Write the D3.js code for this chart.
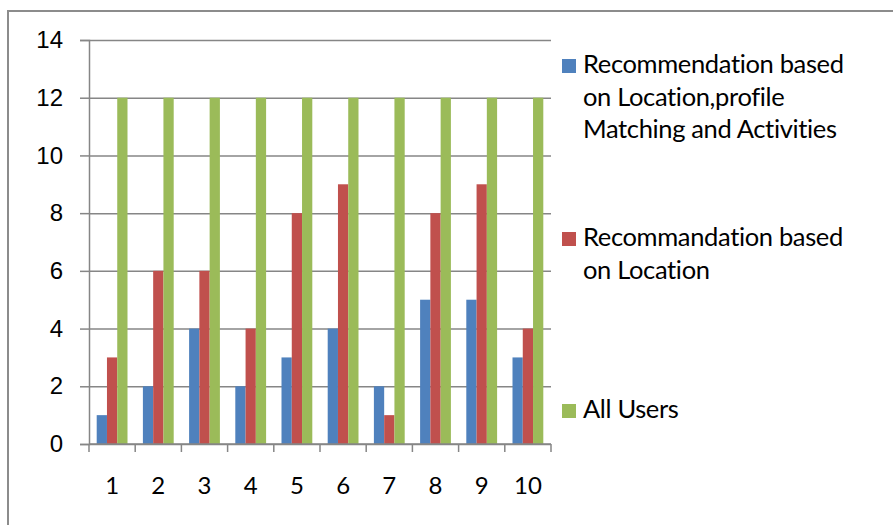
<!DOCTYPE html>
<html>
<head>
<meta charset="utf-8">
<script src="https://cdn.jsdelivr.net/npm/d3@7"></script>
<style>
  html, body { margin: 0; padding: 0; background: #fff; overflow: hidden; }
  svg { display: block; font-family: Lato, "Open Sans", sans-serif; }
</style>
</head>
<body>
<div id="chart"></div>
<script>
// valeurs
const categories = ["1", "2", "3", "4", "5", "6", "7", "8", "9", "10"];
const seriesNames = ["profile", "location", "all"];
const profileValues = [1, 2, 4, 2, 3, 4, 2, 5, 5, 3];
const locationValues = [3, 6, 6, 4, 8, 9, 1, 8, 9, 4];
const allUsersValues = [12, 12, 12, 12, 12, 12, 12, 12, 12, 12];
const yTicks = [0, 2, 4, 6, 8, 10, 12, 14];
const legendLabels = [
    ["Recommendation based", "on Location,profile", "Matching and Activities"],
    ["Recommandation based", "on Location"],
    ["All Users"]
];
const colors = ["#4f81bd", "#c0504d", "#9bbb59"];

const width = 893;
const height = 525;
const marginLeft = 89;
const marginRight = 342;
const marginTop = 40;
const marginBottom = 81;

const data = categories.map((c, i) => ({
    cat: c,
    values: [profileValues[i], locationValues[i], allUsersValues[i]]
}));

const svg = d3.select("#chart").append("svg")
    .attr("width", width)
    .attr("height", height)
    .attr("viewBox", [0, 0, width, height]);

// cadre extérieur (seulement haut et gauche visibles)
svg.append("rect")
    .attr("x", 8)
    .attr("y", 11)
    .attr("width", width + 20)
    .attr("height", height + 20)
    .attr("fill", "none")
    .attr("stroke", "#8c8c8c")
    .attr("stroke-width", 2);

const x0 = d3.scaleBand()
    .domain(categories)
    .range([marginLeft, width - marginRight])
    .paddingInner(0)
    .paddingOuter(0);

const x1 = d3.scaleBand()
    .domain(seriesNames)
    .range([0, x0.bandwidth()])
    .paddingInner(0)
    .paddingOuter(0.75);

const y = d3.scaleLinear()
    .domain([0, 14])
    .range([height - marginBottom, marginTop]);

// grille + axe Y
svg.append("g")
    .attr("transform", `translate(${marginLeft},0)`)
    .call(d3.axisLeft(y).tickValues(yTicks).tickSize(9).tickPadding(17))
    .call(g => g.select(".domain").attr("stroke", "#868686").attr("stroke-width", 1.5))
    .call(g => g.selectAll(".tick line").attr("stroke", "#868686").attr("stroke-width", 1.5))
    .call(g => g.selectAll(".tick line").clone()
        .attr("x2", width - marginLeft - marginRight))
    .call(g => g.selectAll(".tick text")
        .attr("font-size", "24px")
        .attr("fill", "#000"));

// barres
svg.append("g")
    .selectAll("g")
    .data(data)
    .join("g")
    .attr("transform", d => `translate(${x0(d.cat)},0)`)
    .selectAll("rect")
    .data(d => d.values.map((v, i) => ({ key: seriesNames[i], value: v, i })))
    .join("rect")
    .attr("x", d => x1(d.key))
    .attr("y", d => y(d.value))
    .attr("width", x1.bandwidth())
    .attr("height", d => y(0) - y(d.value))
    .attr("fill", d => colors[d.i]);

// axe X
const xAxis = svg.append("g")
    .attr("transform", `translate(0,${height - marginBottom})`);

xAxis.append("line")
    .attr("x1", marginLeft)
    .attr("x2", width - marginRight)
    .attr("stroke", "#868686")
    .attr("stroke-width", 1.5);

xAxis.selectAll(".sep")
    .data(categories.concat(["end"]))
    .join("line")
    .attr("class", "sep")
    .attr("x1", (d, i) => marginLeft + i * x0.step())
    .attr("x2", (d, i) => marginLeft + i * x0.step())
    .attr("y2", 8)
    .attr("stroke", "#868686")
    .attr("stroke-width", 1.5);

xAxis.selectAll(".lbl")
    .data(categories)
    .join("text")
    .attr("class", "lbl")
    .attr("x", d => x0(d) + x0.bandwidth() / 2)
    .attr("y", 50)
    .attr("text-anchor", "middle")
    .attr("font-size", "24px")
    .attr("fill", "#000")
    .text(d => d);

// légende
const legendTops = [73, 246, 418];
const legend = svg.append("g");
legendLabels.forEach((lines, i) => {
    const g = legend.append("g").attr("transform", `translate(562,${legendTops[i]})`);
    g.append("rect")
        .attr("y", -14)
        .attr("width", 14)
        .attr("height", 14)
        .attr("fill", colors[i]);
    g.append("text")
        .attr("x", 21)
        .attr("font-size", "25.5px")
        .attr("letter-spacing", "-0.35px")
        .attr("fill", "#000")
        .selectAll("tspan")
        .data(lines)
        .join("tspan")
        .attr("x", 21)
        .attr("dy", (d, j) => j === 0 ? 0 : 32.5)
        .text(d => d);
});
</script>
</body>
</html>
